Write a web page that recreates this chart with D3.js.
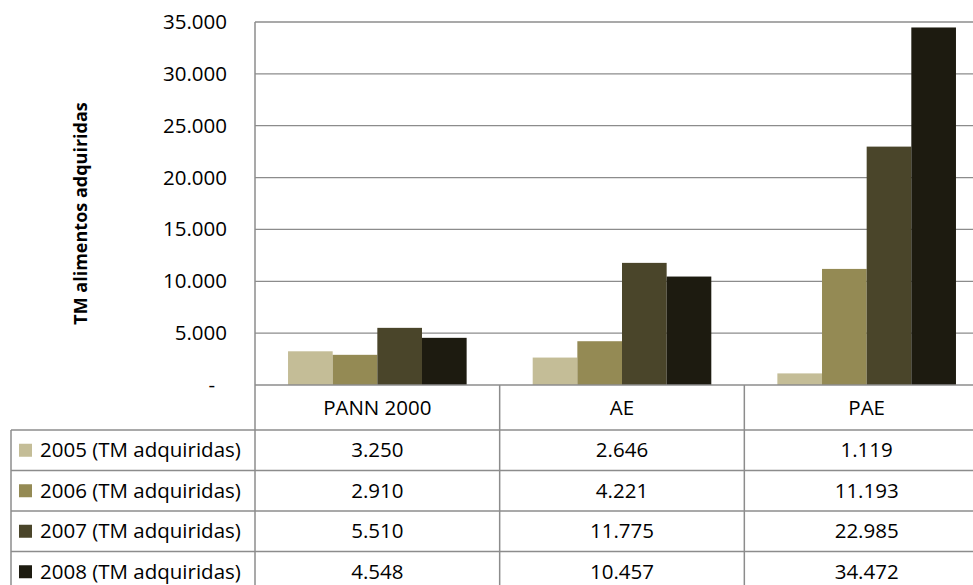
<!DOCTYPE html>
<html>
<head>
<meta charset="utf-8">
<script src="https://cdn.jsdelivr.net/npm/d3@7"></script>
<style>
  body { margin: 0; background: #fff; }
  svg { display: block; font-family: "Open Sans", sans-serif; }
</style>
</head>
<body>
<svg id="chart" width="973" height="585"></svg>
<script>
// datos del gráfico
const categorias = ["PANN 2000", "AE", "PAE"];
const series = ["2005 (TM adquiridas)", "2006 (TM adquiridas)", "2007 (TM adquiridas)", "2008 (TM adquiridas)"];
const v2005 = [3250, 2646, 1119];
const v2006 = [2910, 4221, 11193];
const v2007 = [5510, 11775, 22985];
const v2008 = [4548, 10457, 34472];
const colores = ["#c4bd97", "#948a54", "#4a452a", "#1d1b10"];
const ticksY = [0, 5000, 10000, 15000, 20000, 25000, 30000, 35000];
const tituloY = "TM alimentos adquiridas";

const valores = [v2005, v2006, v2007, v2008];

const svg = d3.select("#chart");
const gris = "#8c8c8c";

const izq = 255, der = 989, arriba = 22, base = 385;
const tablaIzq = 11, filaCab = 45, filaAlto = 40.5;

const loc = d3.formatLocale({ decimal: ",", thousands: ".", grouping: [3], currency: ["", ""] });
const fmt = loc.format(",d");

const x = d3.scaleBand().domain(categorias).range([izq, der]);
const bw = x.bandwidth();
const x1 = d3.scaleBand().domain(series).range([bw * 0.135, bw * 0.865]);
const y = d3.scaleLinear().domain([0, 35000]).range([base, arriba]);

/////////////////////////////// rejilla
svg.append("g").selectAll("line")
  .data(ticksY.filter(d => d > 0))
  .join("line")
  .attr("x1", izq).attr("x2", der)
  .attr("y1", d => y(d)).attr("y2", d => y(d))
  .attr("stroke", gris).attr("stroke-width", 1.3);

/////////////////////////////// barras
series.forEach(function (s, i) {
  svg.append("g").selectAll("rect")
    .data(categorias)
    .join("rect")
    .attr("x", (c) => x(c) + x1(s))
    .attr("width", x1.bandwidth())
    .attr("y", (c, j) => y(valores[i][j]))
    .attr("height", (c, j) => base - y(valores[i][j]))
    .attr("fill", colores[i]);
});

/////////////////////////////// eje y
const ejeY = svg.append("g").attr("transform", `translate(${izq},0)`)
  .call(d3.axisLeft(y).tickValues(ticksY).tickSize(0).tickPadding(28)
    .tickFormat(d => d === 0 ? "-" : fmt(d)));
ejeY.select(".domain").remove();
ejeY.selectAll("text")
  .attr("font-family", "Open Sans").attr("font-size", "20.5px").attr("fill", "#000")
  .attr("dx", d => d === 0 ? -12 : 0);

svg.append("text")
  .attr("transform", `translate(87,${(arriba + base) / 2 + 10}) rotate(-90)`)
  .attr("text-anchor", "middle")
  .attr("font-size", "18px").attr("font-weight", "bold")
  .text(tituloY);

/////////////////////////////// tabla de datos
const filas = series.length;
const yFila = i => base + filaCab + i * filaAlto;
const abajo = yFila(filas);

// líneas horizontales
svg.append("line").attr("x1", izq).attr("x2", der).attr("y1", base).attr("y2", base)
  .attr("stroke", gris).attr("stroke-width", 1.5);
svg.append("g").selectAll("line")
  .data(d3.range(filas + 1))
  .join("line")
  .attr("x1", tablaIzq).attr("x2", der)
  .attr("y1", d => yFila(d)).attr("y2", d => yFila(d))
  .attr("stroke", gris).attr("stroke-width", 1.5);

// líneas verticales
svg.append("line").attr("x1", izq).attr("x2", izq).attr("y1", arriba).attr("y2", abajo)
  .attr("stroke", gris).attr("stroke-width", 1.5);
svg.append("g").selectAll("line")
  .data(categorias.slice(1))
  .join("line")
  .attr("x1", d => x(d)).attr("x2", d => x(d))
  .attr("y1", base).attr("y2", abajo)
  .attr("stroke", gris).attr("stroke-width", 1.5);
svg.append("line").attr("x1", tablaIzq).attr("x2", tablaIzq).attr("y1", yFila(0)).attr("y2", abajo)
  .attr("stroke", gris).attr("stroke-width", 1.5);

// cabecera de categorías
svg.append("g").selectAll("text")
  .data(categorias)
  .join("text")
  .attr("x", d => x(d) + bw / 2)
  .attr("y", base + filaCab / 2)
  .attr("dy", "0.35em")
  .attr("text-anchor", "middle")
  .attr("font-size", "20.5px")
  .text(d => d);

// leyenda y valores
series.forEach(function (s, i) {
  const yc = yFila(i) + filaAlto / 2;
  svg.append("rect")
    .attr("x", 19).attr("y", yc - 6.5)
    .attr("width", 13).attr("height", 13)
    .attr("fill", colores[i]);
  svg.append("text")
    .attr("x", 40).attr("y", yc).attr("dy", "0.35em")
    .attr("font-size", "20.5px")
    .text(s);
  svg.append("g").selectAll("text")
    .data(categorias)
    .join("text")
    .attr("x", d => x(d) + bw / 2)
    .attr("y", yc).attr("dy", "0.35em")
    .attr("text-anchor", "middle")
    .attr("font-size", "20.5px")
    .text((d, j) => fmt(valores[i][j]));
});
</script>
</body>
</html>
